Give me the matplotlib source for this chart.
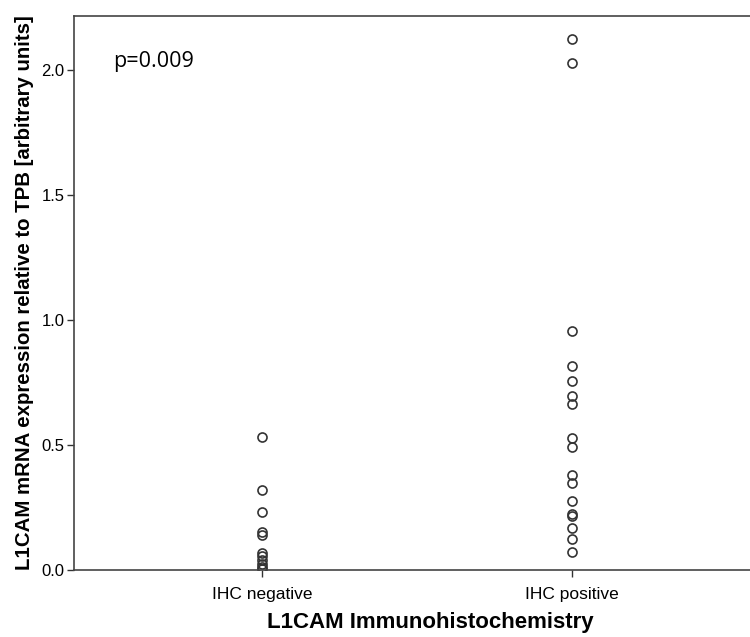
import matplotlib.pyplot as plt

plt.rcParams['font.family'] = ['Liberation Sans', 'DejaVu Sans']

categories = ["IHC negative", "IHC positive"]
ihc_negative = [0.532, 0.322, 0.232, 0.152, 0.142, 0.068, 0.056, 0.040, 0.025, 0.012, 0.005]
ihc_positive = [2.124, 2.028, 0.957, 0.816, 0.756, 0.696, 0.664, 0.528, 0.492,
                0.380, 0.348, 0.276, 0.224, 0.216, 0.168, 0.124, 0.072]
y_ticks = [0.0, 0.5, 1.0, 1.5, 2.0]

fig = plt.figure(figsize=(7.5, 6.37), dpi=100)
ax = fig.add_axes([74 / 750, 1 - 570 / 637, 1 - 74 / 750, (570 - 16) / 637])

for i, vals in enumerate([ihc_negative, ihc_positive]):
    ax.plot([i + 1] * len(vals), vals, linestyle='none', marker='o', markersize=6.5,
            markerfacecolor='none', markeredgecolor='#333333', markeredgewidth=1.2)

ax.set_xlim(1 - 188 / 310, 2 + 178 / 310)
ax.set_ylim(0, 554 / 250)
ax.set_xticks([1, 2])
ax.set_xticklabels(categories, fontsize=12.5)
ax.set_yticks(y_ticks)
ax.set_yticklabels([f"{t:.1f}" for t in y_ticks], fontsize=12)
ax.tick_params(axis='both', direction='out', length=5, width=1, color='#333333')
ax.tick_params(axis='x', pad=7)
ax.tick_params(axis='y', pad=2)

for side in ['left', 'bottom', 'top']:
    ax.spines[side].set_color('#444444')
    ax.spines[side].set_linewidth(1.2)
ax.spines['right'].set_visible(False)

ax.set_xlabel("L1CAM Immunohistochemistry", fontsize=16, fontweight='bold')
ax.xaxis.set_label_coords((430 - 74) / 676, -42 / 554)
ax.set_ylabel("L1CAM mRNA expression relative to TPB [arbitrary units]", fontsize=14.7,
              fontweight='bold', labelpad=5)

ax.text(113 / 750, 1 - 62 / 637, "p=0.009", transform=fig.transFigure, fontsize=15.5,
        family=['Open Sans', 'DejaVu Sans'], ha='left', va='center')

fig.savefig("out.png", dpi=100)
